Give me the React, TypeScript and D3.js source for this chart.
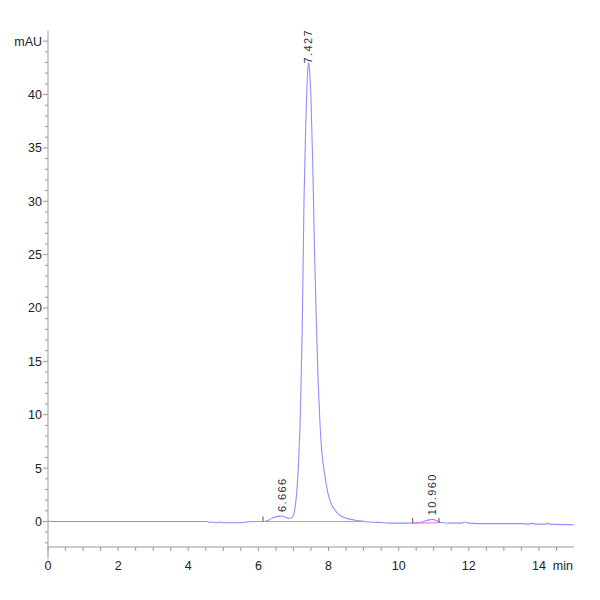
import React from 'react';
import * as d3 from 'd3';

const width = 600;
const height = 600;
const margin = { left: 48, right: 26, top: 30, bottom: 53 };

// chromatogram trace (min, mAU)
const times = [
  0, 0.2, 0.5, 1, 2, 3, 4, 4.55, 4.6, 4.7, 4.8, 4.9, 5.0, 5.3, 5.6, 5.7, 6.0, 6.15,
  6.3, 6.45, 6.6, 6.67, 6.75, 6.85, 6.95, 7.0, 7.05, 7.1, 7.15, 7.2, 7.25, 7.3, 7.35,
  7.4, 7.427, 7.45, 7.5, 7.55, 7.6, 7.65, 7.7, 7.75, 7.8, 7.85, 7.9, 7.95, 8.0, 8.1,
  8.2, 8.3, 8.4, 8.6, 8.8, 9.0, 9.2, 9.5, 9.7, 10.0, 10.4, 10.6, 10.8, 10.96, 11.1,
  11.2, 11.5, 11.8, 11.9, 12.0, 12.5, 13.0, 13.5, 13.7, 13.8, 13.9, 14.2, 14.25, 14.3, 15.0,
];
const signal = [
  0.05, 0, 0, 0, 0, 0, 0, 0, -0.1, -0.05, -0.12, -0.05, -0.12, -0.12, -0.1, -0.02, 0, 0,
  0.15, 0.4, 0.5, 0.52, 0.45, 0.3, 0.35, 0.6, 1.4, 3.0, 5.8, 10.5, 18, 30, 37,
  41.8, 43, 42.6, 39.5, 33.5, 25.5, 19, 13.5, 9.6, 6.9, 5.3, 4.2, 3.2, 2.4, 1.5,
  1.0, 0.65, 0.45, 0.22, 0.1, 0.02, -0.05, -0.1, -0.15, -0.15, -0.15, -0.1, 0.1, 0.2, 0.05,
  -0.1, -0.15, -0.15, -0.05, -0.15, -0.2, -0.2, -0.2, -0.25, -0.15, -0.25, -0.25, -0.15, -0.25, -0.3,
];

// peak labels
const peakTimes = [6.666, 7.427, 10.96];
const peakTops = [0.52, 43, 0.2];
const peakLabels = ['6.666', '7.427', '10.960'];

// integration baselines: start, end, level at start, level at end
const baseStart = [6.13, 10.4];
const baseEnd = [9.0, 11.15];
const baseLevelStart = [0, -0.15];
const baseLevelEnd = [0, -0.12];

const yMajor = [0, 5, 10, 15, 20, 25, 30, 35, 40];
const xMajor = [0, 2, 4, 6, 8, 10, 12, 14];

const font = '"Liberation Sans Narrow", "Arial Narrow", sans-serif';

const x = d3.scaleLinear().domain([0, 15]).range([margin.left, width - margin.right]);
const y = d3.scaleLinear().domain([0, 40]).range([521.5, 94.5]);
const yTop = 46;

const App = () => {
  const points: [number, number][] = times.map((t, i) => [t, signal[i]]);
  const line = d3.line<[number, number]>()
    .x(d => x(d[0]))
    .y(d => y(d[1]))
    .curve(d3.curveMonotoneX);

  const yMinor = d3.range(-2, 46, 1);
  const xMinor = d3.range(0, 15, 0.5);
  const axisY = height - margin.bottom;

  return (
    <svg width={width} height={height} style={{ position: 'absolute', left: 0, top: 0, background: '#fff' }}>
      {/* y axis */}
      <line x1={x(0)} x2={x(0)} y1={y(yTop)} y2={axisY + 12} stroke="#999" />
      {yMinor.map(v => (
        <line key={'ym' + v} x1={x(0) - (v % 5 === 0 ? 5 : 3)} x2={x(0)} y1={y(v)} y2={y(v)} stroke="#999" />
      ))}
      {yMajor.map(v => (
        <text key={'yl' + v} x={x(0) - 6} y={y(v)} dy="0.35em" textAnchor="end" fontSize={12.5}
          fontFamily={font} fill="#222">{v}</text>
      ))}
      <text x={x(0) - 6} y={y(45)} dy="0.35em" textAnchor="end" fontSize={12.5} fontFamily={font} fill="#222">mAU</text>

      {/* x axis */}
      <line x1={x(0)} x2={x(15)} y1={axisY} y2={axisY} stroke="#999" />
      {xMinor.map(v => (
        <line key={'xm' + v} x1={x(v)} x2={x(v)} y1={axisY} y2={axisY + 4} stroke="#999" />
      ))}
      {xMajor.map(v => (
        <text key={'xl' + v} x={x(v)} y={axisY + 23} textAnchor="middle" fontSize={12.5}
          fontFamily={font} fill="#222">{v}</text>
      ))}
      <text x={x(15) - 1} y={axisY + 23} textAnchor="end" fontSize={12.5} fontFamily={font} fill="#222">min</text>

      {/* trace */}
      <path d={line(points) || ''} fill="none" stroke="#8f8fff" strokeWidth={1.1} />

      {/* integration baselines */}
      {baseStart.map((s, i) => (
        <g key={'b' + i}>
          <line x1={x(s)} x2={x(baseEnd[i])} y1={y(baseLevelStart[i])} y2={y(baseLevelEnd[i])}
            stroke="#ff70e0" strokeWidth={1.1} />
          <line x1={x(s)} x2={x(s)} y1={y(baseLevelStart[i])} y2={y(baseLevelStart[i]) - 5} stroke="#555" />
          {i === 1 && (
            <line x1={x(baseEnd[i])} x2={x(baseEnd[i])} y1={y(baseLevelEnd[i])} y2={y(baseLevelEnd[i]) - 5} stroke="#555" />
          )}
        </g>
      ))}

      {/* peak labels */}
      {peakTimes.map((t, i) => {
        const px = x(t) + 4;
        const py = y(peakTops[i]) - (i === 1 ? -1 : 4);
        return (
          <text key={'p' + i} transform={`translate(${px},${py}) rotate(-90)`} fontSize={11}
            fontFamily="Liberation Sans, Arial, sans-serif" letterSpacing={1.4} fill="#333">
            {peakLabels[i]}
          </text>
        );
      })}
    </svg>
  );
};

export default App;
